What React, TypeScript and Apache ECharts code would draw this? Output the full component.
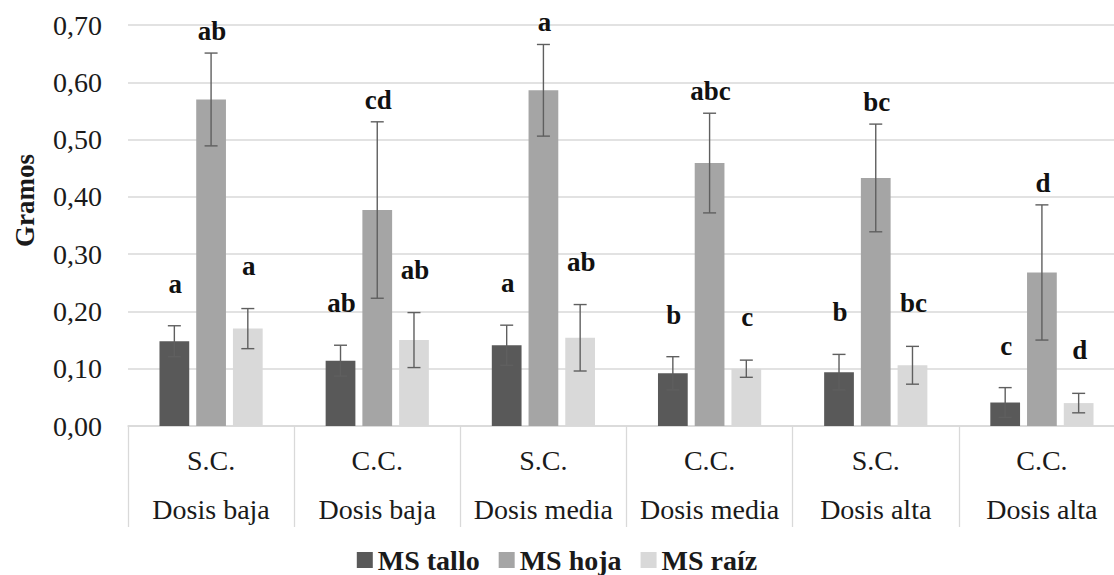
import React, { useEffect, useRef } from "react";
import * as echarts from "echarts";

const categories = [
  "S.C.\nDosis baja",
  "C.C.\nDosis baja",
  "S.C.\nDosis media",
  "C.C.\nDosis media",
  "S.C.\nDosis alta",
  "C.C.\nDosis alta",
];

const seriesNames = ["MS tallo", "MS hoja", "MS raíz"];

const tallo = [0.148, 0.114, 0.141, 0.092, 0.094, 0.041];
const hoja = [0.57, 0.377, 0.586, 0.459, 0.433, 0.268];
const raiz = [0.17, 0.15, 0.154, 0.1, 0.106, 0.04];

const talloErr = [0.027, 0.027, 0.035, 0.029, 0.031, 0.026];
const hojaErr = [0.081, 0.154, 0.08, 0.087, 0.094, 0.118];
const raizErr = [0.035, 0.048, 0.058, 0.015, 0.033, 0.017];

const talloLetters = ["a", "ab", "a", "b", "b", "c"];
const hojaLetters = ["ab", "cd", "a", "abc", "bc", "d"];
const raizLetters = ["a", "ab", "ab", "c", "bc", "d"];

const yTicks = [0, 0.1, 0.2, 0.3, 0.4, 0.5, 0.6, 0.7];

const COLORS = ["#595959", "#a5a5a5", "#d9d9d9"];
const FONT = '"Liberation Serif", Tinos, "Times New Roman", "DejaVu Serif", serif';
const BAR_W = 0.179;
const BAR_GAP = 0.235;
const LABEL_OFF = [42, 22, 43];

export default function App() {
  const ref = useRef<HTMLDivElement>(null);

  useEffect(() => {
    if (!ref.current) return;
    const chart = echarts.init(ref.current, null, { renderer: "svg" });
    const values = [tallo, hoja, raiz];
    const errs = [talloErr, hojaErr, raizErr];
    const letters = [talloLetters, hojaLetters, raizLetters];

    const barSeries = seriesNames.map((name, i) => ({
      name,
      type: "bar",
      data: values[i],
      barWidth: (BAR_W * 100).toFixed(2) + "%",
      barGap: (BAR_GAP * 100).toFixed(1) + "%",
      itemStyle: { color: COLORS[i] },
      z: 2,
    }));

    const errSeries = seriesNames.map((name, si) => ({
      name: name + "_err",
      type: "custom",
      z: 5,
      data: values[si].map((v, ci) => [ci, v, errs[si][ci]]),
      encode: { x: 0, y: 1 },
      renderItem: (params: any, api: any) => {
        const ci = api.value(0);
        const v = api.value(1);
        const e = api.value(2);
        const band = api.size([1, 0])[0];
        const bw = band * BAR_W;
        const step = bw * (1 + BAR_GAP);
        const c = api.coord([ci, v]);
        const x = c[0] + (si - 1) * step;
        const yt = api.coord([ci, v + e])[1];
        const yb = api.coord([ci, v - e])[1];
        const cap = 6.5;
        const st = { stroke: "#5f5f5f", lineWidth: 1.4 };
        return {
          type: "group",
          children: [
            { type: "line", shape: { x1: x, y1: yt, x2: x, y2: yb }, style: st },
            { type: "line", shape: { x1: x - cap, y1: yt, x2: x + cap, y2: yt }, style: st },
            { type: "line", shape: { x1: x - cap, y1: yb, x2: x + cap, y2: yb }, style: st },
            {
              type: "text",
              x: x + 1,
              y: yt - LABEL_OFF[si],
              style: {
                text: letters[si][params.dataIndex],
                fontSize: 27,
                fontWeight: "bold",
                fontFamily: FONT,
                fill: "#111111",
                align: "center",
                verticalAlign: "middle",
              },
            },
          ],
        };
      },
    }));

    chart.setOption({
      animation: false,
      textStyle: { fontFamily: FONT },
      grid: {
        left: 128,
        right: -11,
        top: 25,
        bottom: 149,
        containLabel: false,
        outerBoundsMode: "none",
      },
      legend: {
        data: seriesNames,
        left: "center",
        top: 541,
        icon: "rect",
        itemWidth: 16,
        itemHeight: 16,
        itemGap: 19,
        textStyle: {
          fontFamily: FONT,
          fontSize: 28,
          lineHeight: 28,
          fontWeight: "bold",
          color: "#1a1a1a",
        },
      },
      xAxis: {
        type: "category",
        data: categories,
        axisLine: { show: true, lineStyle: { color: "#d9d9d9", width: 1.5 } },
        axisTick: {
          show: true,
          interval: 0,
          length: 101,
          lineStyle: { color: "#d9d9d9", width: 1.3 },
        },
        axisLabel: {
          interval: 0,
          margin: 10,
          fontFamily: FONT,
          fontSize: 28,
          lineHeight: 49,
          color: "#1a1a1a",
        },
      },
      yAxis: {
        type: "value",
        min: yTicks[0],
        max: yTicks[yTicks.length - 1],
        interval: 0.1,
        name: "Gramos",
        nameLocation: "middle",
        nameRotate: 90,
        nameGap: 90,
        nameTextStyle: {
          fontFamily: FONT,
          fontSize: 27,
          fontWeight: "bold",
          color: "#1a1a1a",
          padding: [0, 0, 0, 50],
        },
        axisLine: { show: false },
        axisTick: { show: false },
        splitLine: { lineStyle: { color: "#d9d9d9", width: 1.5 } },
        axisLabel: {
          margin: 26,
          fontFamily: FONT,
          fontSize: 28,
          color: "#1a1a1a",
          formatter: (v: number) => v.toFixed(2).replace(".", ","),
        },
      },
      series: [...barSeries, ...errSeries],
    });

    return () => chart.dispose();
  }, []);

  return (
    <div
      ref={ref}
      style={{ position: "absolute", left: 0, top: 0, width: 1114, height: 575, background: "#ffffff" }}
    />
  );
}
